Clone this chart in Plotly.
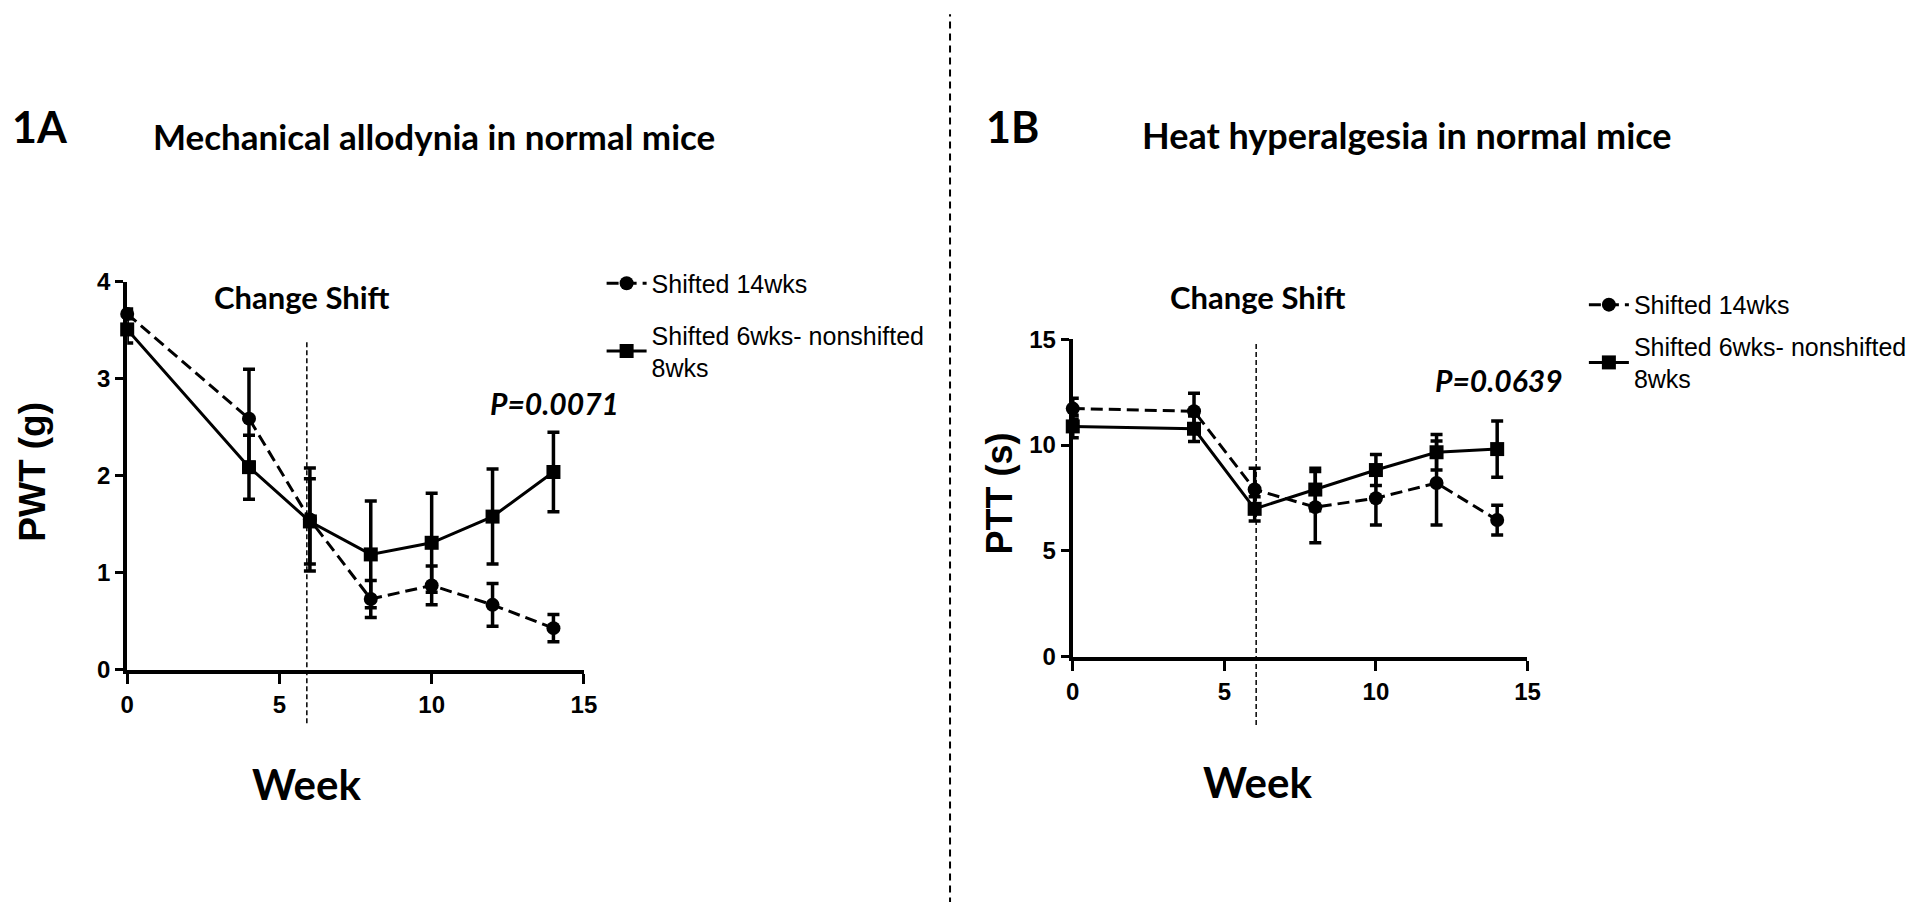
import plotly.graph_objects as go

# ---------------- data ----------------
weeks = [0, 4, 6, 8, 10, 12, 14]

series_names = ["Shifted 14wks", "Shifted 6wks- nonshifted<br>8wks"]

# 1A  Mechanical allodynia, PWT (g)
pwt_shifted14 = [3.67, 2.59, 1.55, 0.73, 0.87, 0.67, 0.43]
pwt_shifted14_err = [0.05, 0.51, 0.53, 0.19, 0.20, 0.22, 0.14]
pwt_shifted6 = [3.51, 2.09, 1.53, 1.19, 1.31, 1.58, 2.04]
pwt_shifted6_err = [0.14, 0.33, 0.44, 0.55, 0.51, 0.49, 0.41]

# 1B  Heat hyperalgesia, PTT (s)
ptt_shifted14 = [11.72, 11.60, 7.90, 7.07, 7.49, 8.21, 6.46]
ptt_shifted14_err = [0.49, 0.85, 1.00, 1.68, 1.26, 1.98, 0.70]
ptt_shifted6 = [10.88, 10.77, 6.99, 7.90, 8.82, 9.66, 9.81]
ptt_shifted6_err = [0.53, 0.60, 0.57, 1.00, 0.73, 0.84, 1.33]

week_ticks = [0, 5, 10, 15]
pwt_ticks = [0, 1, 2, 3, 4]
ptt_ticks = [0, 5, 10, 15]

change_week_a = 5.9
change_week_b = 6.05

p_value_a = "P=0.0071"
p_value_b = "P=0.0639"

# ---------------- figure ----------------
# the page body keeps its default 8px margin, so the figure is sized to the
# remaining viewport and screen positions are converted accordingly
OFF = 8
W, H = 1920 - 2 * OFF, 910 - 2 * OFF


def px(x):
    return (x - OFF) / W


def py(y):
    return 1 - (y - OFF) / H


TITLE_FONT = "Lato, 'Open Sans', sans-serif"
TICK_FONT = "'Liberation Sans Narrow', 'Arial Narrow', 'Liberation Sans', Arial, sans-serif"
LEG_FONT = "'Liberation Sans Narrow', 'Arial Narrow', 'Liberation Sans', Arial, sans-serif"
AXT_FONT = "'Liberation Sans', Arial, sans-serif"

fig = go.Figure()


def add_series(y, err, name, symbol, dash, msize, xa, ya, legend):
    fig.add_trace(go.Scatter(
        x=weeks, y=y, name=name, mode="lines+markers",
        xaxis=xa, yaxis=ya, legend=legend, legendgroup=legend + name,
        line=dict(color="black", width=3, dash=dash),
        marker=dict(symbol=symbol, size=msize, color="black"),
        error_y=dict(type="data", array=err, visible=True, color="black",
                     thickness=3.5, width=6),
        cliponaxis=False,
    ))


add_series(pwt_shifted14, pwt_shifted14_err, series_names[0], "circle", "12px,6px", 14, "x", "y", "legend")
add_series(pwt_shifted6, pwt_shifted6_err, series_names[1], "square", "solid", 14, "x", "y", "legend")
add_series(ptt_shifted14, ptt_shifted14_err, series_names[0], "circle", "12px,6px", 14, "x2", "y2", "legend2")
add_series(ptt_shifted6, ptt_shifted6_err, series_names[1], "square", "solid", 14, "x2", "y2", "legend2")

axis_common = dict(
    showline=True, linewidth=4, linecolor="black", mirror=False,
    ticks="outside", tickwidth=3, tickcolor="black",
    showgrid=False, zeroline=False,
    tickfont=dict(family=TICK_FONT, size=24, color="black", weight="bold"),
    fixedrange=True,
)

legend_common = dict(
    xanchor="left", yanchor="top", bgcolor="rgba(0,0,0,0)", itemwidth=40,
    font=dict(family=LEG_FONT, size=25, color="black"),
)

fig.update_layout(
    width=W, height=H,
    margin=dict(l=0, r=0, t=0, b=0),
    paper_bgcolor="white", plot_bgcolor="white",
    font=dict(family=TITLE_FONT, color="black"),
    xaxis=dict(domain=[px(122), px(586)], range=[0, 15], anchor="y",
               tickvals=week_ticks, ticklen=10, **axis_common),
    yaxis=dict(domain=[py(676), py(276)], range=[0, 4], anchor="x",
               tickvals=pwt_ticks, ticklen=8, **axis_common),
    xaxis2=dict(domain=[px(1082.7), px(1544.7)], range=[0, 15], anchor="y2",
                tickvals=week_ticks, ticklen=10, **axis_common),
    yaxis2=dict(domain=[py(662.7), py(335)], range=[0, 15], anchor="x2",
                tickvals=ptt_ticks, ticklen=8, **axis_common),
    legend=dict(x=px(604), y=py(254), tracegroupgap=16, **legend_common),
    legend2=dict(x=px(1602), y=py(276), tracegroupgap=6, **legend_common),
    showlegend=True,
)

# change-shift dashed reference lines and the panel separator
fig.add_shape(type="line", xref="x", yref="paper", x0=change_week_a, x1=change_week_a,
              y0=py(731), y1=py(338), line=dict(color="black", width=1.5, dash="5px,3px"))
fig.add_shape(type="line", xref="x2", yref="paper", x0=change_week_b, x1=change_week_b,
              y0=py(733), y1=py(338), line=dict(color="black", width=1.5, dash="5px,3px"))
fig.add_shape(type="line", xref="paper", yref="paper", x0=px(958), x1=px(958),
              y0=py(918), y1=py(0), line=dict(color="black", width=2, dash="7px,5px"))


def note(text, x, y, size, family=TITLE_FONT, weight="bold", style="normal", angle=0):
    fig.add_annotation(text=text, x=x, y=y, xref="paper", yref="paper",
                       xanchor="center", yanchor="middle", showarrow=False,
                       textangle=angle,
                       font=dict(family=family, size=size, color="black",
                                 weight=weight, style=style))


note("1A", px(33), py(116), 43)
note("Mechanical allodynia in normal mice", px(434), py(126), 35)
note("1B", px(1021), py(116), 43)
note("Heat hyperalgesia in normal mice", px(1422), py(125), 36)
note("Change Shift", px(300), py(292), 31)
note("Change Shift", px(1271), py(292), 31)
note(p_value_a, px(556), py(401), 30, style="italic")
note(p_value_b, px(1516), py(377), 30, style="italic")
note("PWT (g)", px(26), py(472), 37, family=AXT_FONT, angle=-90)
note("PTT (s)", px(1008), py(494), 36, family=AXT_FONT, angle=-90)
note("Week", px(304), py(794), 42)
note("Week", px(1270), py(792), 42)

fig.write_html("out.html")
